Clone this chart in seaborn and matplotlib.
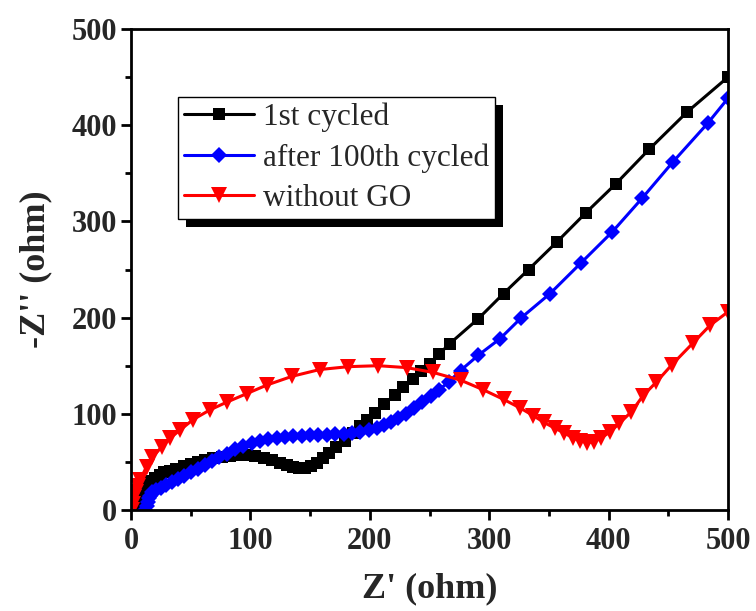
import matplotlib
matplotlib.use("Agg")
import matplotlib.pyplot as plt
import pandas as pd
import seaborn as sns
from matplotlib.patches import Rectangle
from matplotlib.ticker import MultipleLocator
from matplotlib.transforms import IdentityTransform

# Nyquist data: Z' (real part, ohm) and -Z'' (imaginary part, ohm)
labels = ["1st cycled", "after 100th cycled", "without GO"]

zr_first = [5, 6, 7, 8, 10, 12, 14, 17, 20, 24, 28, 33, 38, 44, 50, 56, 62, 69, 76, 83,
            90, 97, 104, 111, 118, 125, 131, 136, 141, 146, 151, 156, 161, 166, 172, 179,
            186, 192, 198, 204, 212, 221, 228, 236, 243, 250, 258, 267, 291, 312, 333,
            357, 381, 406, 434, 466, 500]
zi_first = [0, 5, 10, 15, 20, 24, 27, 30, 33, 36, 39, 41, 43, 46, 48, 50, 52, 54, 55, 56,
            57, 57, 56, 54, 52, 49, 47, 45, 44, 44, 46, 49, 54, 59, 65, 72,
            80, 87, 94, 101, 110, 120, 128, 136, 144, 152, 162, 173, 199, 225, 250,
            279, 309, 339, 375, 414, 450]

zr_100th = [12, 13, 14, 15, 16, 18, 21, 25, 29, 34, 39, 44, 50, 56, 62, 68, 74, 80, 87, 94,
            101, 108, 115, 122, 129, 136, 143, 150, 157, 164, 171, 178, 185, 192, 199, 206,
            212, 218, 224, 230, 237, 244, 251, 258, 266, 276, 291, 309, 327, 351, 377, 403,
            428, 454, 483, 500]
zi_100th = [0, 4, 8, 12, 15, 19, 21, 23, 26, 29, 32, 35, 39, 43, 47, 51, 55, 58, 63, 67,
            70, 72, 74, 75, 76, 77, 77, 78, 78, 78, 79, 79, 80, 81, 83, 85,
            88, 91, 96, 100, 106, 112, 119, 125, 133, 145, 161, 178, 200, 225, 257, 289,
            324, 362, 402, 428]

zr_nogo = [1, 1.5, 2.5, 4, 5.5, 7.5, 13, 18, 26, 33, 41, 52, 66, 80, 97, 114, 135, 158, 182,
           207, 231, 253, 276, 295, 312, 326, 337, 346, 355, 363, 370, 376, 382, 388, 394,
           401, 409, 419, 429, 440, 453, 471, 485, 500]
zi_nogo = [0, 6, 13, 19, 25, 31, 45, 55, 66, 75, 83, 94, 104, 112, 121, 130, 139, 146, 149,
           150, 148, 143, 135, 125, 115, 106, 98, 91, 85, 80, 75, 72, 70, 71, 75,
           81, 90, 102, 119, 133, 151, 174, 192, 206]

sns.set_theme(style="ticks")
plt.rcParams["font.family"] = ["Liberation Serif", "DejaVu Serif"]

fig = plt.figure(figsize=(7.56, 6.11), dpi=100)
ax = fig.add_axes([131 / 756, 1 - 510 / 611, (728 - 131) / 756, (510 - 29) / 611])

series = [
    (zr_first, zi_first, "black", "s", 9.0),
    (zr_100th, zi_100th, "#0000FF", "D", 8.0),
    (zr_nogo, zi_nogo, "#FF0000", "v", 11.0),
]
for (x, y, color, marker, ms), label in zip(series, labels):
    df = pd.DataFrame({"Z'": x, "-Z''": y})
    sns.lineplot(data=df, x="Z'", y="-Z''", sort=False, estimator=None, ax=ax,
                 color=color, marker=marker, markersize=ms, markeredgewidth=0,
                 linewidth=2.2, label=label)

ax.set_xlim(0, 500)
ax.set_ylim(0, 500)
ax.xaxis.set_major_locator(MultipleLocator(100))
ax.xaxis.set_minor_locator(MultipleLocator(50))
ax.yaxis.set_major_locator(MultipleLocator(100))
ax.yaxis.set_minor_locator(MultipleLocator(50))

for side in ["left", "right", "top", "bottom"]:
    ax.spines[side].set_visible(True)
    ax.spines[side].set_linewidth(2.0)
    ax.spines[side].set_color("black")

ax.tick_params(which="major", direction="out", length=7, width=2.0, color="black",
               labelsize=22, top=False, right=False)
ax.tick_params(axis="x", which="major", pad=5)
ax.tick_params(axis="y", which="major", pad=3)
ax.tick_params(which="minor", direction="out", length=4.5, width=2.0, color="black",
               top=False, right=False)
for lbl in ax.get_xticklabels() + ax.get_yticklabels():
    lbl.set_fontweight("bold")

ax.set_xlabel("Z' (ohm)", fontsize=26, fontweight="bold", labelpad=12)
ax.set_ylabel("-Z'' (ohm)", fontsize=26, fontweight="bold", labelpad=14)

leg = ax.legend(loc="upper left", bbox_to_anchor=(0.079, 0.859), borderaxespad=0,
                fontsize=22.5, frameon=True, fancybox=False, framealpha=1,
                edgecolor="black", handlelength=2.25, handletextpad=0.3,
                labelspacing=0.36, borderpad=0.18)
leg.get_frame().set_linewidth(1.0)
leg.set_zorder(5)

# Solid black drop shadow behind the legend box
fig.canvas.draw()
bb = leg.get_window_extent()
shadow = Rectangle((bb.x0 + 8, bb.y0 - 8), bb.width, bb.height,
                   transform=IdentityTransform(), facecolor="black",
                   edgecolor="none", zorder=4.9, clip_on=False)
ax.add_artist(shadow)

fig.savefig("out.png", dpi=100)
